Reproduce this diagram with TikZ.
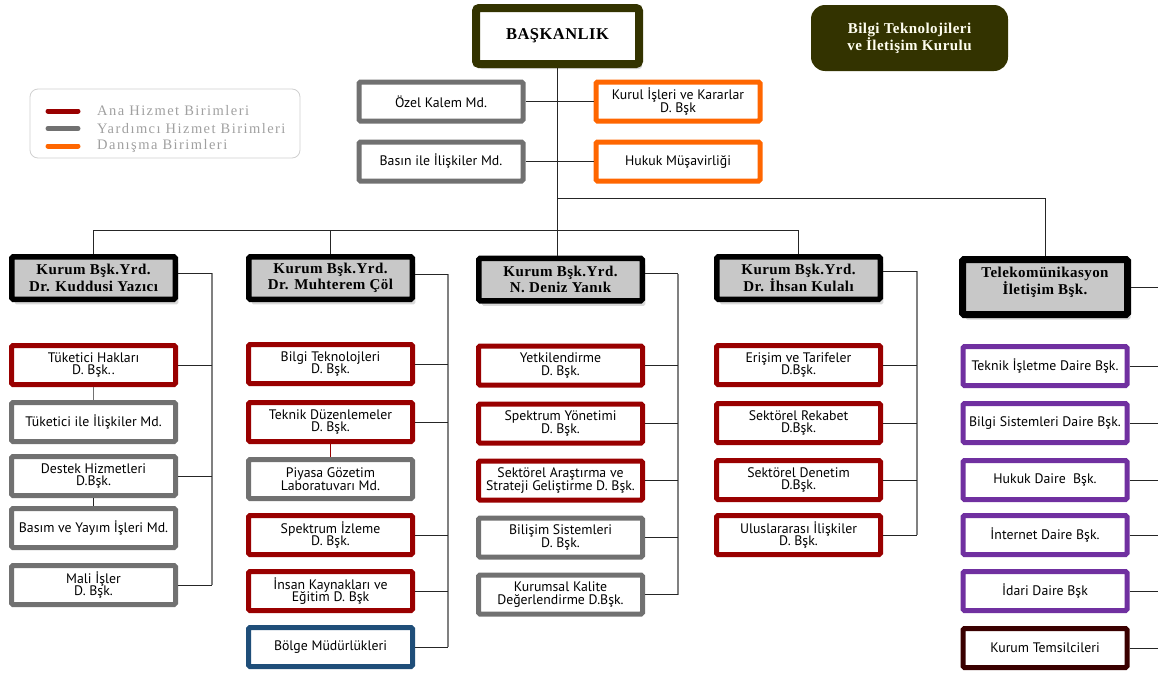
\documentclass[tikz,border=0pt]{standalone}
\usepackage{fontspec}
\setmainfont{Liberation Serif}
\newfontfamily\unitfont{PT Sans}
\newfontfamily\chieffont[LetterSpace=3]{Liberation Serif}
\newfontfamily\keyfont[LetterSpace=10]{Liberation Serif}
\usetikzlibrary{positioning,shadows}
\definecolor{anac}{HTML}{990000}
\definecolor{yardc}{HTML}{717171}
\definecolor{danc}{HTML}{FF6600}
\definecolor{telc}{HTML}{7030A0}
\definecolor{bolgec}{HTML}{1F4E79}
\definecolor{temsc}{HTML}{3A0000}
\definecolor{olivc}{HTML}{333300}
\definecolor{headfill}{HTML}{C8C8C8}
\definecolor{keytext}{HTML}{A0A0A0}
\definecolor{keyframe}{HTML}{D0D0D0}

\begin{document}
\begin{tikzpicture}[x=1pt, y=-1pt,
  node distance=13pt,
  unit/.style={draw, line width=5pt, rounded corners=1.5pt, fill=white,
    minimum width=164pt, minimum height=39pt, inner sep=1pt, align=center,
    font=\unitfont\fontsize{13.8}{12.8}\selectfont},
  ana/.style={unit, draw=anac},
  yard/.style={unit, draw=yardc},
  dan/.style={unit, draw=danc},
  tel/.style={unit, draw=telc},
  chief/.style={draw=black, line width=5.5pt, rounded corners=1.5pt, fill=headfill,
    minimum width=163.5pt, minimum height=42.5pt, inner sep=1pt, align=center,
    font=\chieffont\bfseries\fontsize{15}{16.5}\selectfont,
    drop shadow={shadow xshift=3pt, shadow yshift=-5pt, opacity=0.3}},
  link/.style={draw=black!85, line width=1pt},
  spine/.style={draw=black!50, line width=1.6pt},
  keyline/.style={line width=5pt, line cap=round},
  keytxt/.style={anchor=west, inner sep=0pt, text=keytext,
    font=\keyfont\fontsize{14.5}{14.5}\selectfont}
]
  \useasboundingbox (0,0) rectangle (1158,672);

  \node[draw=olivc, line width=8pt, rounded corners=3pt, fill=white,
    minimum width=163pt, minimum height=56pt,
    font=\chieffont\bfseries\fontsize{16.5}{18}\selectfont,
    drop shadow={shadow xshift=3pt, shadow yshift=-5pt, opacity=0.3}] (baskan) at (557.5,36) {BAŞKANLIK};
  \node[fill=olivc, rounded corners=14pt, minimum width=197pt, minimum height=66pt,
    align=center, text=white!94!yellow,
    font=\chieffont\bfseries\fontsize{15}{17}\selectfont] (btk) at (909.5,38)
    {Bilgi Teknolojileri\\ve İletişim Kurulu};

  \node[draw=keyframe, line width=0.8pt, rounded corners=8pt, minimum width=270pt,
    minimum height=69pt] (legend) at (165,123.5) {};
  \node[keytxt] (key1) at (97,111) {Ana Hizmet Birimleri};
  \node[keytxt] (key2) at (97,128.5) {Yardımcı Hizmet Birimleri};
  \node[keytxt] (key3) at (97,146) {Danışma Birimleri};
  \draw[keyline, draw=anac] ([xshift=-49pt]key1.west) -- ([xshift=-19pt]key1.west);
  \draw[keyline, draw=yardc] ([xshift=-49pt]key2.west) -- ([xshift=-19pt]key2.west);
  \draw[keyline, draw=danc] ([xshift=-49pt]key3.west) -- ([xshift=-19pt]key3.west);

  \node[yard] (ozel) at (441,101.5) {Özel Kalem Md.};
  \node[yard, below=16pt of ozel] (basin) {Basın ile İlişkiler Md.};
  \node[dan, right=68pt of ozel] (kurul) {Kurul İşleri ve Kararlar\\D. Bşk};
  \node[dan, below=16pt of kurul] (hukuk) {Hukuk Müşavirliği};

  \node[chief] (yazici) at (93.5,278) {Kurum Bşk.Yrd.\\Dr. Kuddusi Yazıcı};
  \node[chief] (col) at (330.5,278) {Kurum Bşk.Yrd.\\Dr. Muhterem Çöl};
  \node[chief] (yanik) at (560.5,279.5) {Kurum Bşk.Yrd.\\N. Deniz Yanık};
  \node[chief] (kulali) at (798.5,278) {Kurum Bşk.Yrd.\\Dr. İhsan Kulalı};
  \node[chief, line width=7pt, minimum width=165pt, minimum height=55pt,
    font=\chieffont\bfseries\fontsize{15}{15}\selectfont] (tib) at (1045,287)
    {Telekomünikasyon\\İletişim Bşk.\\[-2pt]\mbox{}};

  \node[ana,  below=41pt of yazici] (tuketici) {Tüketici Hakları\\D. Bşk..};
  \node[yard, below=of tuketici] (tukiliski) {Tüketici ile İlişkiler Md.};
  \node[yard, below=10pt of tukiliski] (destek) {Destek Hizmetleri\\D.Bşk.};
  \node[yard, below=8pt of destek] (basim) {Basım ve Yayım İşleri Md.};
  \node[yard, below=of basim] (mali) {Mali İşler\\D. Bşk.};

  \node[ana,  below=40pt of col] (bilgitek) {Bilgi Teknolojleri\\D. Bşk.};
  \node[ana,  below=14pt of bilgitek] (teknik) {Teknik Düzenlemeler\\D. Bşk.};
  \node[yard, below=of teknik] (piyasa) {Piyasa Gözetim\\Laboratuvarı Md.};
  \node[ana,  below=12pt of piyasa] (spizleme) {Spektrum İzleme\\D. Bşk.};
  \node[ana,  below=12pt of spizleme] (insan) {İnsan Kaynakları ve\\Eğitim D. Bşk};
  \node[unit, draw=bolgec, below=12pt of insan] (bolge) {Bölge Müdürlükleri};

  \node[ana,  below=40pt of yanik] (yetki) {Yetkilendirme\\D. Bşk.};
  \node[ana,  below=14pt of yetki] (spyonetim) {Spektrum Yönetimi\\D. Bşk.};
  \node[ana,  below=of spyonetim] (sektorel) {Sektörel Araştırma ve\\Strateji Geliştirme D. Bşk.};
  \node[yard, below=of sektorel] (bilisim) {Bilişim Sistemleri\\D. Bşk.};
  \node[yard, below=of bilisim] (kalite) {Kurumsal Kalite\\Değerlendirme D.Bşk.};

  \node[ana, below=41pt of kulali] (erisim) {Erişim ve Tarifeler\\D.Bşk.};
  \node[ana, below=14pt of erisim] (rekabet) {Sektörel Rekabet\\D.Bşk.};
  \node[ana, below=of rekabet] (denetim) {Sektörel Denetim\\D.Bşk.};
  \node[ana, below=11pt of denetim] (ulus) {Uluslararası İlişkiler\\D. Bşk.};

  \node[tel, below=26pt of tib] (isletme) {Teknik İşletme Daire Bşk.};
  \node[tel, below=of isletme] (bilgisis) {Bilgi Sistemleri Daire Bşk.};
  \node[tel, below=of bilgisis] (hukukd) {Hukuk Daire~~Bşk.};
  \node[tel, below=11pt of hukukd] (internet) {İnternet Daire Bşk.};
  \node[tel, below=12pt of internet] (idari) {İdari Daire Bşk};
  \node[unit, draw=temsc, below=of idari] (temsil) {Kurum Temsilcileri};

  \coordinate (bus) at (0,230);
  \coordinate (telbus) at (0,198);
  \coordinate (spA) at (212,0);
  \coordinate (spB) at (448,0);
  \coordinate (spC) at (678,0);
  \coordinate (spD) at (917,0);
  \coordinate (edge) at (1158,0);
  \coordinate (yaziciR) at ([yshift=5pt]yazici.east);
  \coordinate (colR) at ([yshift=4pt]col.east);
  \coordinate (yanikR) at ([yshift=6pt]yanik.east);
  \coordinate (kulaliR) at ([yshift=7pt]kulali.east);

  \draw[link] (baskan.south) -- (baskan.south |- yanik.north);
  \draw[link] (ozel.east) -- (ozel.east -| baskan.south);
  \draw[link] (basin.east) -- (basin.east -| baskan.south);
  \draw[link] (kurul.west) -- (kurul.west -| baskan.south);
  \draw[link] (hukuk.west) -- (hukuk.west -| baskan.south);
  \draw[link] (yazici.north) |- (bus -| kulali.north) -- (kulali.north);
  \draw[link] (bus -| col.north) -- (col.north);
  \draw[link] (telbus -| baskan.south) -| (tib.north);

  \draw[spine] (yaziciR -| spA) -- (mali.east -| spA);
  \draw[link] (yaziciR) -- (yaziciR -| spA);
  \draw[link] (tuketici.east) -- (tuketici.east -| spA);
  \draw[link] (destek.east) -- (destek.east -| spA);
  \draw[link] (mali.east) -- (mali.east -| spA);
  \draw[line width=1.6pt, draw=yardc] (tuketici.south) -- (tukiliski.north);
  \draw[link] (destek.south) -- (basim.north);

  \draw[spine] (colR -| spB) -- (bolge.east -| spB);
  \draw[link] (colR) -- (colR -| spB);
  \draw[link] (bilgitek.east) -- (bilgitek.east -| spB);
  \draw[link] (teknik.east) -- (teknik.east -| spB);
  \draw[link] (spizleme.east) -- (spizleme.east -| spB);
  \draw[link] (insan.east) -- (insan.east -| spB);
  \draw[link] (bolge.east) -- (bolge.east -| spB);
  \draw[line width=1.3pt, draw=anac] (teknik.south) -- (piyasa.north);

  \draw[spine] (yanikR -| spC) -- (kalite.east -| spC);
  \draw[link] (yanikR) -- (yanikR -| spC);
  \draw[link] (yetki.east) -- (yetki.east -| spC);
  \draw[link] (spyonetim.east) -- (spyonetim.east -| spC);
  \draw[link] (sektorel.east) -- (sektorel.east -| spC);
  \draw[link] (bilisim.east) -- (bilisim.east -| spC);
  \draw[link] (kalite.east) -- (kalite.east -| spC);

  \draw[spine] (kulaliR -| spD) -- (ulus.east -| spD);
  \draw[link] (kulaliR) -- (kulaliR -| spD);
  \draw[link] (erisim.east) -- (erisim.east -| spD);
  \draw[link] (rekabet.east) -- (rekabet.east -| spD);
  \draw[link] (denetim.east) -- (denetim.east -| spD);
  \draw[link] (ulus.east) -- (ulus.east -| spD);

  \draw[link] (tib.east) -- (tib.east -| edge);
  \draw[link] (isletme.east) -- (isletme.east -| edge);
  \draw[link] (bilgisis.east) -- (bilgisis.east -| edge);
  \draw[link] (hukukd.east) -- (hukukd.east -| edge);
  \draw[link] (internet.east) -- (internet.east -| edge);
  \draw[link] (idari.east) -- (idari.east -| edge);
  \draw[link] (temsil.east) -- (temsil.east -| edge);
\end{tikzpicture}
\end{document}
